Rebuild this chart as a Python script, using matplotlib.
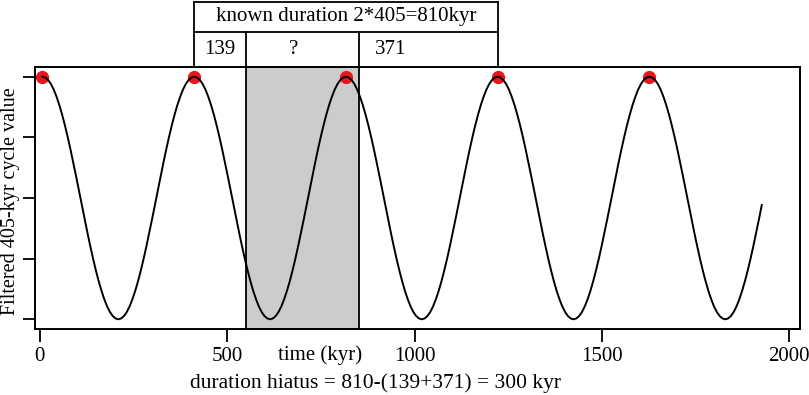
import numpy as np
import matplotlib
matplotlib.use("Agg")
import matplotlib.pyplot as plt
from matplotlib.transforms import blended_transform_factory

plt.rcParams["font.family"] = ["Liberation Serif", "DejaVu Serif"]

# filtered 405-kyr cycle, read every 7.5 kyr starting at 7 kyr
t_start, t_step = 7, 7.5
cycle_value = [
    1.000, 0.993, 0.973, 0.940, 0.894, 0.835, 0.766, 0.686, 0.597, 0.500, 0.396, 0.287, 0.174, 0.058,
    -0.058, -0.174, -0.287, -0.396, -0.500, -0.597, -0.686, -0.766, -0.835, -0.894, -0.940, -0.973, -0.993,
    -1.000, -0.993, -0.973, -0.940, -0.894, -0.835, -0.766, -0.686, -0.597, -0.500, -0.396, -0.287, -0.174,
    -0.058, 0.058, 0.174, 0.287, 0.396, 0.500, 0.597, 0.686, 0.766, 0.835, 0.894, 0.940, 0.973, 0.993,
    1.000, 0.993, 0.973, 0.940, 0.894, 0.835, 0.766, 0.686, 0.597, 0.500, 0.396, 0.287, 0.174, 0.058,
    -0.058, -0.174, -0.287, -0.396, -0.500, -0.597, -0.686, -0.766, -0.835, -0.894, -0.940, -0.973, -0.993,
    -1.000, -0.993, -0.973, -0.940, -0.894, -0.835, -0.766, -0.686, -0.597, -0.500, -0.396, -0.287, -0.174,
    -0.058, 0.058, 0.174, 0.287, 0.396, 0.500, 0.597, 0.686, 0.766, 0.835, 0.894, 0.940, 0.973, 0.993,
    1.000, 0.993, 0.973, 0.940, 0.894, 0.835, 0.766, 0.686, 0.597, 0.500, 0.396, 0.287, 0.174, 0.058,
    -0.058, -0.174, -0.287, -0.396, -0.500, -0.597, -0.686, -0.766, -0.835, -0.894, -0.940, -0.973, -0.993,
    -1.000, -0.993, -0.973, -0.940, -0.894, -0.835, -0.766, -0.686, -0.597, -0.500, -0.396, -0.287, -0.174,
    -0.058, 0.058, 0.174, 0.287, 0.396, 0.500, 0.597, 0.686, 0.766, 0.835, 0.894, 0.940, 0.973, 0.993,
    1.000, 0.993, 0.973, 0.940, 0.894, 0.835, 0.766, 0.686, 0.597, 0.500, 0.396, 0.287, 0.174, 0.058,
    -0.058, -0.174, -0.287, -0.396, -0.500, -0.597, -0.686, -0.766, -0.835, -0.894, -0.940, -0.973, -0.993,
    -1.000, -0.993, -0.973, -0.940, -0.894, -0.835, -0.766, -0.686, -0.597, -0.500, -0.396, -0.287, -0.174,
    -0.058, 0.058, 0.174, 0.287, 0.396, 0.500, 0.597, 0.686, 0.766, 0.835, 0.894, 0.940, 0.973, 0.993,
    1.000, 0.993, 0.973, 0.940, 0.894, 0.835, 0.766, 0.686, 0.597, 0.500, 0.396, 0.287, 0.174, 0.058,
    -0.058, -0.174, -0.287, -0.396, -0.500, -0.597, -0.686, -0.766, -0.835, -0.894, -0.940, -0.973, -0.993,
    -1.000, -0.993, -0.973, -0.940, -0.894, -0.835, -0.766, -0.686, -0.597, -0.500, -0.396, -0.287, -0.174,
    -0.058,
]
time = t_start + t_step * np.arange(len(cycle_value))

peak_time = [7, 412, 817, 1222, 1627]
peak_value = [1, 1, 1, 1, 1]

# hiatus bounds and the duration table
seg_start = 412
seg_before = 139
seg_hiatus = 300
seg_after = 371
table_top = "known duration 2*405=810kyr"
table_cells = ["139", "?", "371"]
cell_label_x = [481, 676, 935]

x_ticks = [0, 500, 1000, 1500, 2000]
y_ticks = [-1, -0.5, 0, 0.5, 1]

fig = plt.figure(figsize=(8.09, 3.95), dpi=100)
ax = fig.add_axes([35 / 809, 1 - 329 / 395, 765 / 809, 262 / 395])

h0 = seg_start + seg_before
h1 = h0 + seg_hiatus
h2 = h1 + seg_after
ax.axvspan(h0, h1, facecolor="#cccccc", edgecolor="black", linewidth=1.3, zorder=1)

ax.plot(peak_time, peak_value, "o", color="#e8161b", markersize=8.5, zorder=2)
ax.plot(time, cycle_value, color="black", linewidth=1.4, zorder=3)

ax.set_xlim(-13, 2029)
ax.set_ylim(-1.08, 1.08)
ax.set_xticks(x_ticks)
ax.set_xticklabels([str(v) for v in x_ticks], fontsize=15)
ax.set_yticks(y_ticks)
ax.set_yticklabels([])
ax.tick_params(direction="out", length=9, width=1.3, pad=4)
for s in ax.spines.values():
    s.set_linewidth(1.4)

tr = blended_transform_factory(ax.transData, ax.transAxes)
ax.text(748, -0.099, "time (kyr)", transform=tr, ha="center", va="center", fontsize=15)
fig.text(375 / 809, 1 - 383 / 395, "duration hiatus = 810-(139+371) = 300 kyr",
         ha="center", va="center", fontsize=15.5)
fig.text(1 / 809, 1 - 201 / 395, "Filtered 405-kyr cycle value", rotation=90,
         ha="left", va="center", fontsize=14.5)

# duration table above the axes
y_top, y_mid, y_bot = 1.25, 1.132, 1.0
lines = [
    ([seg_start, h2], [y_top, y_top]),
    ([seg_start, h2], [y_mid, y_mid]),
    ([seg_start, seg_start], [y_bot, y_top]),
    ([h2, h2], [y_bot, y_top]),
    ([h0, h0], [y_bot, y_mid]),
    ([h1, h1], [y_bot, y_mid]),
]
for xs, ys in lines:
    ax.plot(xs, ys, color="black", linewidth=1.3, transform=tr, clip_on=False)
ax.text((seg_start + h2) / 2, (y_top + y_mid) / 2, table_top, transform=tr,
        ha="center", va="center", fontsize=15)
for lx, lab in zip(cell_label_x, table_cells):
    ax.text(lx, (y_mid + y_bot) / 2, lab, transform=tr, ha="center", va="center", fontsize=15)

fig.savefig("out.png", dpi=100)
